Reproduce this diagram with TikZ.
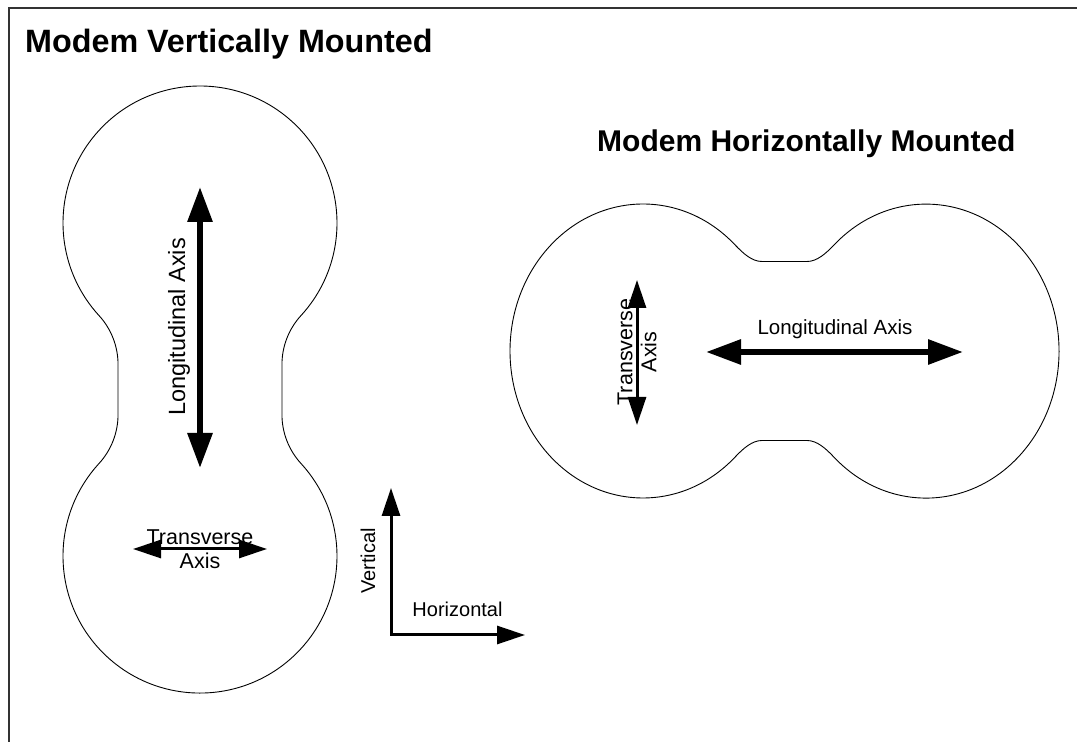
\documentclass[tikz,border=0pt]{standalone}
\usepackage{fontspec}
\setmainfont{Liberation Sans}
\usetikzlibrary{arrows.meta}

\begin{document}
\begin{tikzpicture}[x=1pt,y=1pt]
	\tikzstyle{frame}=[line width=1.5pt,draw=black!80]
	\tikzstyle{outline}=[line width=0.9pt]
	\tikzstyle{heading}=[inner sep=0pt,anchor=base west,font=\fontsize{30}{36}\selectfont\bfseries]
	\tikzstyle{axistext}=[inner sep=0pt,align=center,font=\fontsize{20}{23}\selectfont]
	\tikzstyle{bigtext}=[inner sep=0pt,align=center,font=\fontsize{21.5}{24}\selectfont]
	\tikzstyle{longaxis}=[line width=6pt,{Triangle[length=35pt,width=24pt]}-{Triangle[length=35pt,width=24pt]}]
	\tikzstyle{shortaxis}=[line width=3pt,{Triangle[length=28pt,width=18pt]}-{Triangle[length=28pt,width=18pt]}]
	\useasboundingbox (0,0) rectangle (1077,742);
	\draw[frame] (9,-20) -- (9,734) -- (1100,734);

	\node[heading,font=\fontsize{32.3}{36}\selectfont\bfseries] (t1) at (25,689) {Modem Vertically Mounted};
	\node[heading] (t2) at (597,590) {Modem Horizontally Mounted};

	% vertically mounted
	\draw[outline] (200,519) ++(-42.5:137) arc[start angle=-42.5,end angle=222.5,radius=137]
		arc[start angle=42.5,end angle=0,radius=72.5] -- ++(0,-50)
		arc[start angle=0,end angle=-42.5,radius=72.5]
		arc[start angle=137.5,end angle=402.5,radius=137]
		arc[start angle=222.5,end angle=180,radius=72.5] -- ++(0,50)
		arc[start angle=180,end angle=137.5,radius=72.5] -- cycle;
	\coordinate (vl1) at (200,555);
	\coordinate (vl2) at (200,274);
	\draw[longaxis] (vl1) -- (vl2);
	\node[bigtext,rotate=90,anchor=base,font=\fontsize{23.5}{26}\selectfont] (vlt) at (185,415) {Longitudinal Axis};
	\coordinate (vt1) at (133,193);
	\coordinate (vt2) at (267,193);
	\draw[shortaxis] (vt1) -- (vt2);
	\node[bigtext] (vtt) at (200,193) {Transverse\\Axis};

	% horizontally mounted
	\draw[outline] (643,391) ++(46.2:133 and 147) arc[start angle=46.2,end angle=313.8,x radius=133,y radius=147]
		.. controls (743.2,293.5) and (752,301.5) .. (762,301.5) -- (807,301.5)
		.. controls (817,301.5) and (825.8,293.5) .. (834,284.8)
		arc[start angle=226.2,end angle=493.8,x radius=133,y radius=147]
		.. controls (825.8,488.5) and (817,480.5) .. (807,480.5) -- (762,480.5)
		.. controls (752,480.5) and (743.2,488.5) .. (735,497.2) -- cycle;
	\coordinate (ht1) at (637,462);
	\coordinate (ht2) at (637,317);
	\draw[shortaxis] (ht1) -- (ht2);
	\node[bigtext,rotate=90] (htt) at (637,390) {Transverse\\Axis};
	\coordinate (hl1) at (706,390);
	\coordinate (hl2) at (963,390);
	\draw[longaxis] (hl1) -- (hl2);
	\node[bigtext,anchor=base,font=\fontsize{20.5}{24}\selectfont] (hlt) at (835,407) {Longitudinal Axis};

	% reference directions
	\coordinate (o) at (391,107);
	\coordinate (vy) at (391,254);
	\coordinate (hx) at (525,107);
	\draw[shortaxis] (vy) -- (o) -- (hx);
	\node[axistext,rotate=90,anchor=base] (vtx) at (375,181) {Vertical};
	\node[axistext,anchor=base] (htx) at (457.5,125) {Horizontal};
\end{tikzpicture}
\end{document}
